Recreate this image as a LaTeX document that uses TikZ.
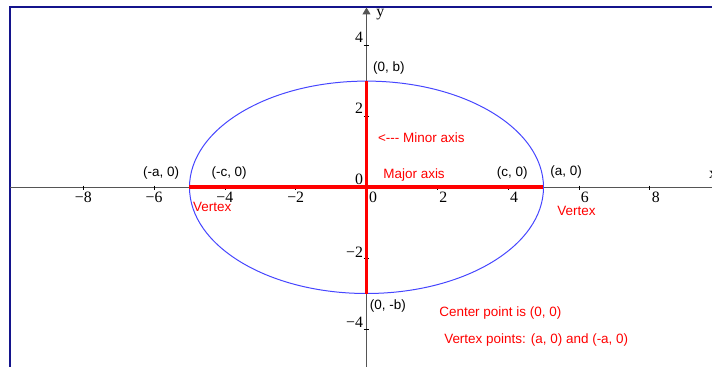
\documentclass[tikz,border=0pt]{standalone}
\usepackage{fontspec}
\setmainfont{Liberation Sans}
\newfontfamily\tickfont{Liberation Serif}
\usetikzlibrary{arrows.meta}

\definecolor{framenavy}{RGB}{20,20,140}
\definecolor{axisgray}{RGB}{85,85,85}
\definecolor{ellipseblue}{RGB}{70,70,255}
\definecolor{axisred}{RGB}{255,0,0}

\tikzset{
  pointlbl/.style={font=\fontsize{11.5}{13}\selectfont, inner sep=0pt},
  notelbl/.style={pointlbl, text=axisred},
  ticklbl/.style={font=\tickfont\fontsize{13.5}{14}\selectfont, inner sep=0pt},
  axisline/.style={axisgray, line width=0.85pt}
}

\begin{document}
\begin{tikzpicture}[x=1.062cm, y=1.062cm]
                % Page area
                \clip (-10.353,-5.076) rectangle (9.760,5.291);
                % Frame
                \draw[framenavy, line width=1.7pt] (-10.07,-5.3) -- (-10.07,5.093) -- (10,5.093);

                % Axes
                \draw[axisline] (-10.07,0) -- (9.9,0);
                \draw[axisline, -{Triangle[length=2.1mm,width=2.4mm]}] (0,-5.2) -- (0,5.08);
                \node[ticklbl] (ylbl) at (0.39,4.88) {y};
                \node[ticklbl] (xlbl) at (9.79,0.35) {x};

                % Ticks and numbers
                \foreach \x/\t [count=\i] in {-8/−8, -6/−6, -4/−4, -2/−2} {
                    \draw[black, line width=0.6pt] (\x,0.05) -- (\x,-0.09);
                    \node[ticklbl, anchor=north] (xneg\i) at (\x,-0.12) {\t};
                }
                \foreach \x [count=\i] in {2,4,6,8} {
                    \draw[black, line width=0.6pt] (\x,0.05) -- (\x,-0.09);
                    \node[ticklbl, anchor=north] (xpos\i) at (\x+0.17,-0.12) {\x};
                }
                \node[ticklbl, anchor=north west] (xzero) at (0.07,-0.12) {0};
                \foreach \y [count=\i] in {2,4} {
                    \draw[black, line width=0.6pt] (-0.08,\y) -- (0.08,\y);
                    \node[ticklbl, anchor=south east] (ypos\i) at (-0.09,\y+0.075) {\y};
                }
                \foreach \y/\t [count=\i] in {-2/−2, -4/−4} {
                    \draw[black, line width=0.6pt] (-0.08,\y) -- (0.08,\y);
                    \node[ticklbl, anchor=south east] (yneg\i) at (-0.09,\y+0.02) {\t};
                }
                \node[ticklbl, anchor=south east] (yzero) at (-0.09,0.065) {0};

                % Ellipse
                \draw[ellipseblue, line width=0.85pt] (0,0) ellipse (5 and 3);

                % Vertices and co-vertices
                \coordinate (vleft) at (-5,0);
                \coordinate (vright) at (5,0);
                \coordinate (cvtop) at (0,3);
                \coordinate (cvbot) at (0,-3);
                \draw[axisred, line width=3.4pt] (vleft) -- (vright);
                \draw[axisred, line width=3.4pt] (cvbot) -- (cvtop);

                % Point labels
                \node[pointlbl, anchor=west] (lblb) at (0.18,3.37) {(0, b)};
                \node[pointlbl, anchor=west] (lblmb) at (0.09,-3.34) {(0, -b)};
                \node[pointlbl] (lblma) at (-5.80,0.40) {(-a, 0)};
                \node[pointlbl] (lblmc) at (-3.88,0.40) {(-c, 0)};
                \node[pointlbl] (lblc) at (4.12,0.40) {(c, 0)};
                \node[pointlbl] (lbla) at (5.64,0.43) {(a, 0)};

                % Red notes
                \node[notelbl, anchor=west] (major) at (0.47,0.35) {Major axis};
                \node[notelbl, anchor=west] (minor) at (0.32,1.39) {<-{}-{}- Minor axis};
                \node[notelbl] (vtxleft) at (-4.36,-0.56) {Vertex};
                \node[notelbl] (vtxright) at (5.93,-0.67) {Vertex};
                \node[notelbl, anchor=west] (center) at (2.05,-3.54) {Center point is (0, 0)};
                \node[notelbl, anchor=west] (vtxpts) at (2.19,-4.31) {Vertex points: (a, 0) and (-a, 0)};
\end{tikzpicture}
\end{document}
